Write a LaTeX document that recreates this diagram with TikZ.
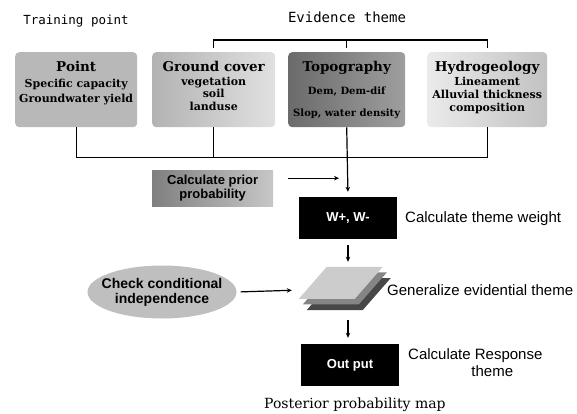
\documentclass[tikz,border=0pt]{standalone}
\usepackage{fontspec}
\setmainfont{Liberation Sans}
\newfontfamily\boxfont{DejaVu Serif}
\newfontfamily\headfont{DejaVu Sans Mono}
\usepackage{tikz}
\usetikzlibrary{arrows.meta,positioning,calc,shapes.geometric}
\tikzstyle{theme}=[rectangle,rounded corners=4pt,inner sep=1pt,anchor=north west,minimum height=75pt]
\tikzstyle{blackbox}=[fill=black,text=white,font=\bfseries\fontsize{13}{15}\selectfont,minimum width=98pt,minimum height=42pt]
\tikzstyle{flow}=[line width=1.2pt,-{Stealth[length=5pt,width=4.5pt]}]
\tikzstyle{bracket}=[line width=1.2pt]
\tikzstyle{note}=[font=\fontsize{15}{17}\selectfont,anchor=west,inner sep=0pt]
\newcommand{\themetext}[3]{\parbox[c][72pt][t]{#1}{\centering\boxfont\bfseries\vspace*{8pt}%
  {\fontsize{13.5}{15}\selectfont #2}\\[1pt]#3}}

\begin{document}
\begin{tikzpicture}[x=1pt,y=-1pt]
\useasboundingbox (0,0) rectangle (577,414);
% headings
\node[font=\headfont\fontsize{12.5}{14}\selectfont] (train) at (76,21) {Training point};
\node[font=\headfont\fontsize{14}{16}\selectfont] (evid) at (347,17) {Evidence theme};
% layers
\node[theme,fill=black!28,minimum width=122pt] (point) at (15,52)
  {\themetext{118pt}{Point}{\fontsize{11}{15}\selectfont Specific capacity\\Groundwater yield}};
\node[theme,left color=black!30,right color=black!12,minimum width=123pt] (ground) at (152,52)
  {\themetext{119pt}{Ground cover}{\fontsize{11}{12.5}\selectfont vegetation\\soil\\landuse}};
\node[theme,left color=black!58,right color=black!38,minimum width=117pt] (topo) at (288,52)
  {\themetext{114pt}{Topography}{\fontsize{10}{22}\selectfont Dem, Dem-dif\\Slop, water density}};
\node[theme,left color=black!8,right color=black!24,minimum width=120pt] (hydro) at (427,52)
  {\themetext{117pt}{Hydrogeology}{\fontsize{11}{13}\selectfont Lineament\\Alluvial thickness\\composition}};
\draw[bracket] ([yshift=4pt]ground.north) -- ++(0,-8) -| ([yshift=4pt]hydro.north);
\draw[bracket] ([yshift=4pt]topo.north) -- ++(0,-8);
% flow
\node[anchor=north west,left color=black!50,right color=black!22,minimum width=121pt,minimum height=36pt,
  align=center,font=\bfseries\fontsize{13}{14}\selectfont] (prior) at (152,170) {Calculate prior\\probability};
\node[blackbox] (wbox) at (348,218) {W+, W-};
\node[minimum width=86pt,minimum height=46pt,inner sep=0pt] (gen) at (344,290) {};
\foreach \d/\c in {8/black!72,4/black!48,0/black!20}
  \fill[\c] ($(gen.north west)+(26+\d,1.4*\d)$) -- ++(56,0) -- ++(-28,32) -- ++(-56,0) -- cycle;
\node[ellipse,fill=black!25,minimum width=149pt,minimum height=53pt,inner xsep=-12pt,inner ysep=0pt,
  align=center,font=\bfseries\fontsize{14}{15}\selectfont] (check) at (162,292) {Check conditional\\independence};
\node[blackbox] (out) at (350,365) {Out put};
\draw[bracket] (point.south) -- ++(0,30) -| (hydro.south);
\draw[bracket] (ground.south) -- ++(0,30);
\draw[flow,shorten >=5pt] (topo.south) -- (wbox.north);
\draw[flow,shorten <=15pt,shorten >=9pt] ([yshift=10pt]prior.east) -- ([yshift=10pt]prior.east -| wbox.north);
\draw[flow,shorten <=6pt,shorten >=5pt] (wbox.south) -- (wbox.south |- gen.north);
\draw[flow,shorten <=4pt,shorten >=9pt] (check.east) -- (gen.west);
\draw[flow,shorten <=7pt,shorten >=6pt] (wbox.south |- gen.south) -- (wbox.south |- out.north);
% notes
\node[note] (wnote) at (405,219) {Calculate theme weight};
\node[note] (gnote) at (387,290) {Generalize evidential theme};
\node[note,align=center] (onote) at (408,363) {Calculate Response\\\hspace*{34pt}theme};
\node[note,font=\boxfont\fontsize{14}{16}\selectfont] (map) at (264,405) {Posterior probability map};
\end{tikzpicture}
\end{document}
